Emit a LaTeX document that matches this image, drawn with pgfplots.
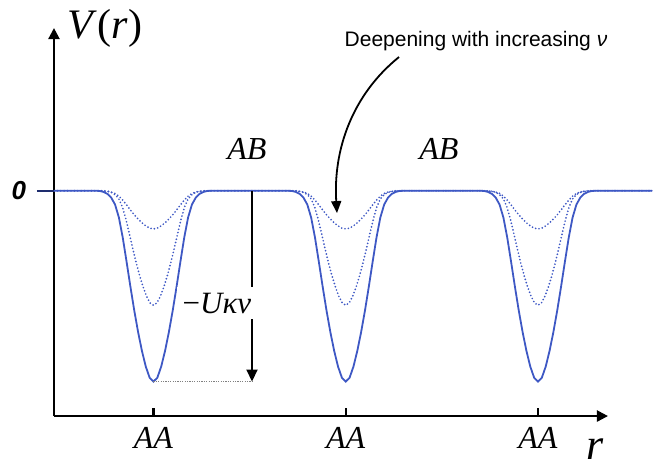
\documentclass[border=0pt]{standalone}
\usepackage{fontspec}
\setmainfont{Liberation Serif}
\newfontfamily\helv{Liberation Sans}
\usepackage{pgfplots}
\pgfplotsset{compat=1.18}
\usetikzlibrary{arrows.meta}

\definecolor{wellblue}{RGB}{62,88,196}
\definecolor{zeronavy}{RGB}{30,45,110}

\begin{document}
\begin{tikzpicture}
\begin{axis}[
  scale only axis,
  width=277pt, height=194pt,
  xmin=0.4824, xmax=3.364,
  ymin=-1.181, ymax=0.853,
  axis lines=left,
  axis line style={line width=1.1pt, -{Triangle[length=5.5pt,width=5.5pt]}},
  xtick={1,2,3}, xticklabels={},
  ytick=\empty,
  tick align=inside,
  major tick length=4pt,
  tick style={black, line width=1.1pt},
  clip=false,
  dotcurve/.style={wellblue, line width=0.95pt, line cap=round, dash pattern=on 0pt off 1.7pt},
]
% solid well, deepest
\addplot[wellblue, line width=0.9pt] coordinates {
(0.4824,0) (0.70,0) (0.72,-0.001) (0.74,-0.006) (0.76,-0.016) (0.78,-0.036) (0.80,-0.072)
(0.82,-0.140) (0.84,-0.245) (0.86,-0.372) (0.88,-0.503) (0.90,-0.628) (0.92,-0.741)
(0.94,-0.840) (0.96,-0.922) (0.98,-0.980) (1.00,-1.000) (1.02,-0.980) (1.04,-0.922)
(1.06,-0.840) (1.08,-0.741) (1.10,-0.628) (1.12,-0.503) (1.14,-0.372) (1.16,-0.245)
(1.18,-0.140) (1.20,-0.072) (1.22,-0.036) (1.24,-0.016) (1.26,-0.006) (1.28,-0.001) (1.30,0)
(1.70,0) (1.72,-0.001) (1.74,-0.006) (1.76,-0.016) (1.78,-0.036) (1.80,-0.072)
(1.82,-0.140) (1.84,-0.245) (1.86,-0.372) (1.88,-0.503) (1.90,-0.628) (1.92,-0.741)
(1.94,-0.840) (1.96,-0.922) (1.98,-0.980) (2.00,-1.000) (2.02,-0.980) (2.04,-0.922)
(2.06,-0.840) (2.08,-0.741) (2.10,-0.628) (2.12,-0.503) (2.14,-0.372) (2.16,-0.245)
(2.18,-0.140) (2.20,-0.072) (2.22,-0.036) (2.24,-0.016) (2.26,-0.006) (2.28,-0.001) (2.30,0)
(2.70,0) (2.72,-0.001) (2.74,-0.006) (2.76,-0.016) (2.78,-0.036) (2.80,-0.072)
(2.82,-0.140) (2.84,-0.245) (2.86,-0.372) (2.88,-0.503) (2.90,-0.628) (2.92,-0.741)
(2.94,-0.840) (2.96,-0.922) (2.98,-0.980) (3.00,-1.000) (3.02,-0.980) (3.04,-0.922)
(3.06,-0.840) (3.08,-0.741) (3.10,-0.628) (3.12,-0.503) (3.14,-0.372) (3.16,-0.245)
(3.18,-0.140) (3.20,-0.072) (3.22,-0.036) (3.24,-0.016) (3.26,-0.006) (3.28,-0.001) (3.30,0)
(3.593,0)
};
% dotted, middle depth
\addplot[dotcurve] coordinates {
(0.4824,0) (0.730,0) (0.748,-0.001) (0.766,-0.004) (0.784,-0.010) (0.802,-0.022) (0.820,-0.043)
(0.838,-0.084) (0.856,-0.147) (0.874,-0.223) (0.892,-0.302) (0.910,-0.377) (0.928,-0.445)
(0.946,-0.504) (0.964,-0.553) (0.982,-0.588) (1.000,-0.600) (1.018,-0.588) (1.036,-0.553)
(1.054,-0.504) (1.072,-0.445) (1.090,-0.377) (1.108,-0.302) (1.126,-0.223) (1.144,-0.147)
(1.162,-0.084) (1.180,-0.043) (1.198,-0.022) (1.216,-0.010) (1.234,-0.004) (1.252,-0.001) (1.270,0)
(1.730,0) (1.748,-0.001) (1.766,-0.004) (1.784,-0.010) (1.802,-0.022) (1.820,-0.043)
(1.838,-0.084) (1.856,-0.147) (1.874,-0.223) (1.892,-0.302) (1.910,-0.377) (1.928,-0.445)
(1.946,-0.504) (1.964,-0.553) (1.982,-0.588) (2.000,-0.600) (2.018,-0.588) (2.036,-0.553)
(2.054,-0.504) (2.072,-0.445) (2.090,-0.377) (2.108,-0.302) (2.126,-0.223) (2.144,-0.147)
(2.162,-0.084) (2.180,-0.043) (2.198,-0.022) (2.216,-0.010) (2.234,-0.004) (2.252,-0.001) (2.270,0)
(2.730,0) (2.748,-0.001) (2.766,-0.004) (2.784,-0.010) (2.802,-0.022) (2.820,-0.043)
(2.838,-0.084) (2.856,-0.147) (2.874,-0.223) (2.892,-0.302) (2.910,-0.377) (2.928,-0.445)
(2.946,-0.504) (2.964,-0.553) (2.982,-0.588) (3.000,-0.600) (3.018,-0.588) (3.036,-0.553)
(3.054,-0.504) (3.072,-0.445) (3.090,-0.377) (3.108,-0.302) (3.126,-0.223) (3.144,-0.147)
(3.162,-0.084) (3.180,-0.043) (3.198,-0.022) (3.216,-0.010) (3.234,-0.004) (3.252,-0.001) (3.270,0)
(3.593,0)
};
% dotted, shallow
\addplot[dotcurve] coordinates {
(0.4824,0) (0.69,0) (0.73,-0.001) (0.76,-0.003) (0.78,-0.007) (0.80,-0.014)
(0.82,-0.028) (0.84,-0.049) (0.86,-0.074) (0.88,-0.101) (0.90,-0.126) (0.92,-0.148)
(0.94,-0.168) (0.96,-0.184) (0.98,-0.196) (1.00,-0.200) (1.02,-0.196) (1.04,-0.184)
(1.06,-0.168) (1.08,-0.148) (1.10,-0.126) (1.12,-0.101) (1.14,-0.074) (1.16,-0.049)
(1.18,-0.028) (1.20,-0.014) (1.22,-0.007) (1.24,-0.003) (1.27,-0.001) (1.31,0)
(1.69,0) (1.73,-0.001) (1.76,-0.003) (1.78,-0.007) (1.80,-0.014)
(1.82,-0.028) (1.84,-0.049) (1.86,-0.074) (1.88,-0.101) (1.90,-0.126) (1.92,-0.148)
(1.94,-0.168) (1.96,-0.184) (1.98,-0.196) (2.00,-0.200) (2.02,-0.196) (2.04,-0.184)
(2.06,-0.168) (2.08,-0.148) (2.10,-0.126) (2.12,-0.101) (2.14,-0.074) (2.16,-0.049)
(2.18,-0.028) (2.20,-0.014) (2.22,-0.007) (2.24,-0.003) (2.27,-0.001) (2.31,0)
(2.69,0) (2.73,-0.001) (2.76,-0.003) (2.78,-0.007) (2.80,-0.014)
(2.82,-0.028) (2.84,-0.049) (2.86,-0.074) (2.88,-0.101) (2.90,-0.126) (2.92,-0.148)
(2.94,-0.168) (2.96,-0.184) (2.98,-0.196) (3.00,-0.200) (3.02,-0.196) (3.04,-0.184)
(3.06,-0.168) (3.08,-0.148) (3.10,-0.126) (3.12,-0.101) (3.14,-0.074) (3.16,-0.049)
(3.18,-0.028) (3.20,-0.014) (3.22,-0.007) (3.24,-0.003) (3.27,-0.001) (3.31,0)
(3.593,0)
};

% zero mark and labels
\draw[zeronavy, line width=1pt] (axis cs:0.394,0) -- (axis cs:0.4824,0);
\node[font=\helv\bfseries\itshape\fontsize{13}{13}\selectfont] at (axis cs:0.300,0) {0};
\node[font=\fontsize{21}{21}\selectfont] at (axis cs:0.7477,0.8505) {\textit{V}(\textit{r})};
\node[font=\fontsize{22}{22}\selectfont] at (axis cs:3.2965,-1.3545) {\textit{r}};
\node[font=\fontsize{16}{16}\selectfont] at (axis cs:1.4863,0.2187) {\textit{AB}};
\node[font=\fontsize{16}{16}\selectfont] at (axis cs:2.4850,0.2187) {\textit{AB}};
\node[font=\fontsize{16}{16}\selectfont] at (axis cs:1,-1.297) {\textit{AA}};
\node[font=\fontsize{16}{16}\selectfont] at (axis cs:2,-1.297) {\textit{AA}};
\node[font=\fontsize{16}{16}\selectfont] at (axis cs:3,-1.297) {\textit{AA}};

% depth marker
\draw[gray, line width=0.6pt, dash pattern=on 0.6pt off 0.6pt] (axis cs:1,-1) -- (axis cs:1.5124,-1);
\draw[line width=1pt, -{Triangle[length=6pt,width=5.5pt]}] (axis cs:1.5124,0) -- (axis cs:1.5124,-1);
\node[fill=white, inner sep=3pt, font=\fontsize{15.5}{15.5}\selectfont] at (axis cs:1.3303,-0.589) {−\textit{Uκν}};

% annotation
\node[font=\helv\fontsize{10.5}{12}\selectfont] at (axis cs:2.6775,0.785) {Deepening with increasing \textit{ν}};
\draw[line width=0.9pt, -{Triangle[length=6pt,width=5pt]}] (axis cs:2.277,0.701)
  .. controls (axis cs:2.0325,0.502) and (axis cs:1.9337,0.213) .. (axis cs:1.9545,-0.117);

% page extent
\path (axis cs:0.2016,1.0) rectangle (axis cs:3.619,-1.4227);
\end{axis}
\end{tikzpicture}
\end{document}
